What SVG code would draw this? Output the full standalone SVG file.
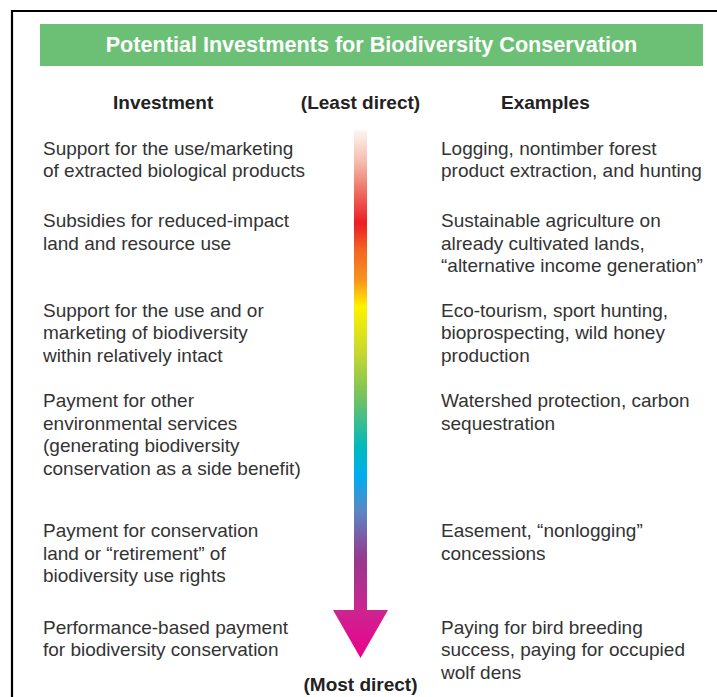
<svg xmlns="http://www.w3.org/2000/svg" width="717" height="697" viewBox="0 0 717 697">
<style>
.t{font-family:"Liberation Sans",Arial,sans-serif;font-size:19px;fill:#333333}
.h{font-family:"Liberation Sans",Arial,sans-serif;font-size:19px;font-weight:bold;fill:#222222}
.title{font-family:"Liberation Sans",Arial,sans-serif;font-size:21.6px;font-weight:bold;fill:#ffffff}
</style>
<defs>
<linearGradient id="spec" gradientUnits="userSpaceOnUse" x1="0" y1="130" x2="0" y2="658">
<stop offset="0" stop-color="#fef6f3"/>
<stop offset="0.06" stop-color="#f5bcae"/>
<stop offset="0.12" stop-color="#ee6a5c"/>
<stop offset="0.176" stop-color="#ed1c24"/>
<stop offset="0.227" stop-color="#f26522"/>
<stop offset="0.284" stop-color="#f7941d"/>
<stop offset="0.335" stop-color="#fff200"/>
<stop offset="0.42" stop-color="#c8d82e"/>
<stop offset="0.498" stop-color="#7dc35a"/>
<stop offset="0.60" stop-color="#00b9be"/>
<stop offset="0.657" stop-color="#00aeef"/>
<stop offset="0.72" stop-color="#5b87c5"/>
<stop offset="0.81" stop-color="#953a8e"/>
<stop offset="0.909" stop-color="#cc2590"/>
<stop offset="1" stop-color="#ec008c"/>
</linearGradient>
</defs>
<rect x="0" y="0" width="717" height="697" fill="#ffffff"/>
<path d="M12 697 V11 H717" fill="none" stroke="#000000" stroke-width="2.2"/>
<g id="title">
<rect x="40" y="24" width="663" height="42" fill="#6cc075"/>
<text class="title" x="371.5" y="52" text-anchor="middle">Potential Investments for Biodiversity Conservation</text>
</g>
<g id="headers">
<text class="h" x="113" y="109">Investment</text>
<text class="h" x="360.5" y="109" text-anchor="middle">(Least direct)</text>
<text class="h" x="501" y="109">Examples</text>
</g>
<g id="connectors">
<path id="arrow" d="M354 130 H367 V610 H388 L360.5 658 L333 610 H354 Z" fill="url(#spec)"/>
</g>
<g id="inv1"><text class="t" x="43" y="154.5">Support for the use/marketing</text><text class="t" x="43" y="177">of extracted biological products</text></g>
<g id="inv2"><text class="t" x="43" y="227">Subsidies for reduced-impact</text><text class="t" x="43" y="249.5">land and resource use</text></g>
<g id="inv3"><text class="t" x="43" y="316.5">Support for the use and or</text><text class="t" x="43" y="339">marketing of biodiversity</text><text class="t" x="43" y="361.5">within relatively intact</text></g>
<g id="inv4"><text class="t" x="43" y="407">Payment for other</text><text class="t" x="43" y="429.5">environmental services</text><text class="t" x="43" y="452">(generating biodiversity</text><text class="t" x="43" y="474.5">conservation as a side benefit)</text></g>
<g id="inv5"><text class="t" x="43" y="537">Payment for conservation</text><text class="t" x="43" y="559.5">land or “retirement” of</text><text class="t" x="43" y="582">biodiversity use rights</text></g>
<g id="inv6"><text class="t" x="43" y="633.5">Performance-based payment</text><text class="t" x="43" y="656">for biodiversity conservation</text></g>
<g id="ex1"><text class="t" x="441" y="154.5">Logging, nontimber forest</text><text class="t" x="441" y="177">product extraction, and hunting</text></g>
<g id="ex2"><text class="t" x="441" y="227">Sustainable agriculture on</text><text class="t" x="441" y="249.5">already cultivated lands,</text><text class="t" x="441" y="272">“alternative income generation”</text></g>
<g id="ex3"><text class="t" x="441" y="316.5">Eco-tourism, sport hunting,</text><text class="t" x="441" y="339">bioprospecting, wild honey</text><text class="t" x="441" y="361.5">production</text></g>
<g id="ex4"><text class="t" x="441" y="407">Watershed protection, carbon</text><text class="t" x="441" y="429.5">sequestration</text></g>
<g id="ex5"><text class="t" x="441" y="537">Easement, “nonlogging”</text><text class="t" x="441" y="559.5">concessions</text></g>
<g id="ex6"><text class="t" x="441" y="633.5">Paying for bird breeding</text><text class="t" x="441" y="656">success, paying for occupied</text><text class="t" x="441" y="678.5">wolf dens</text></g>
<g id="footer"><text class="h" x="360.5" y="691" text-anchor="middle">(Most direct)</text></g>
</svg>
